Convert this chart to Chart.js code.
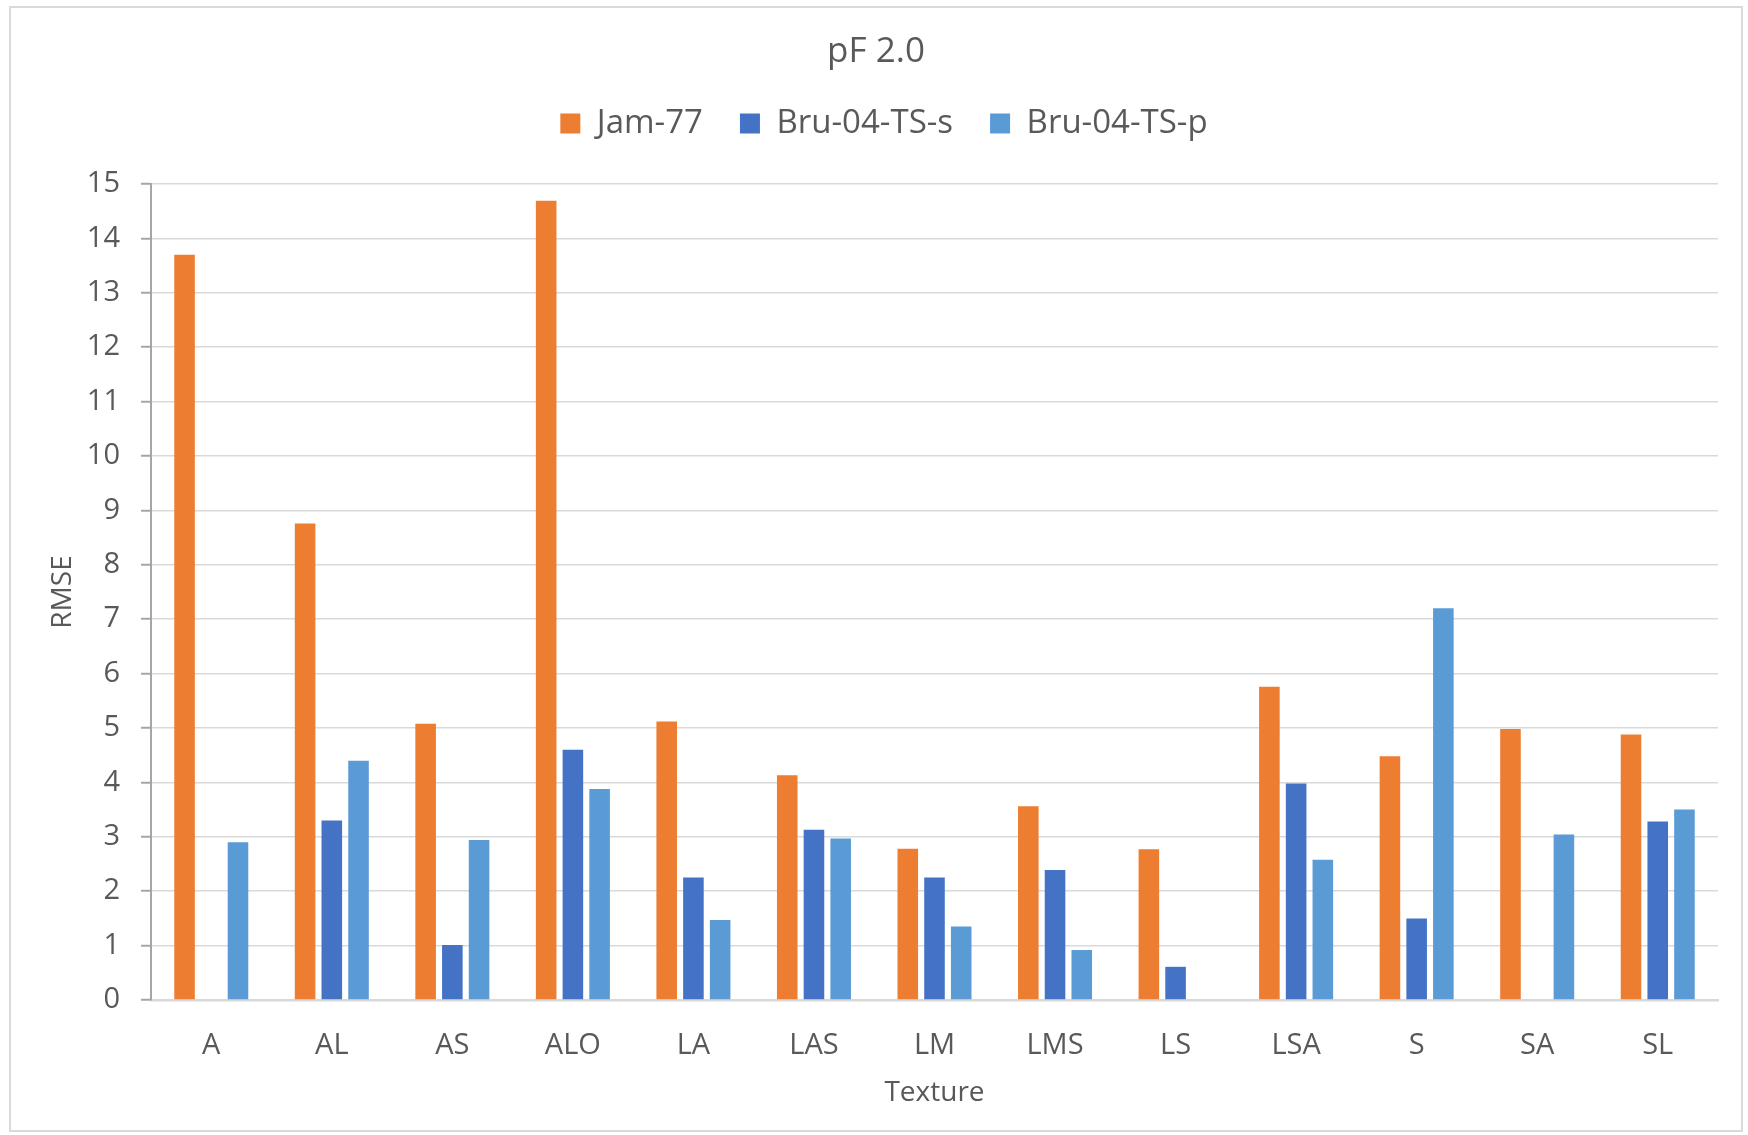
<!DOCTYPE html>
<html>
<head>
<meta charset="utf-8">
<script src="https://cdn.jsdelivr.net/npm/chart.js@4.4.1/dist/chart.umd.min.js"></script>
<style>
  html, body { margin: 0; padding: 0; background: #ffffff; }
  #wrap { width: 1748px; height: 1135px; position: relative; }
</style>
</head>
<body>
<div id="wrap"><canvas id="c" width="1748" height="1135"></canvas></div>
<script>
const categories = ["A", "AL", "AS", "ALO", "LA", "LAS", "LM", "LMS", "LS", "LSA", "S", "SA", "SL"];
const jam77      = [13.7, 8.76, 5.08, 14.69, 5.12, 4.13, 2.78, 3.56, 2.77, 5.76, 4.48, 4.98, 4.88];
const bru04TSs   = [null, 3.30, 1.01, 4.60, 2.25, 3.13, 2.25, 2.39, 0.61, 3.98, 1.50, null, 3.28];
const bru04TSp   = [2.90, 4.40, 2.94, 3.88, 1.47, 2.97, 1.35, 0.92, null, 2.58, 7.20, 3.04, 3.50];
const seriesNames = ["Jam-77", "Bru-04-TS-s", "Bru-04-TS-p"];
const yTicks = [0, 1, 2, 3, 4, 5, 6, 7, 8, 9, 10, 11, 12, 13, 14, 15];

const FONT = "'Open Sans', 'Liberation Sans', sans-serif";
const TXT = '#595959';

const frame = {
  id: 'frame',
  beforeDraw(chart) {
    const ctx = chart.ctx;
    ctx.save();
    ctx.fillStyle = '#ffffff';
    ctx.fillRect(0, 0, chart.width, chart.height);
    ctx.strokeStyle = '#d9d9d9';
    ctx.lineWidth = 2;
    ctx.strokeRect(10, 7, 1732, 1124);
    ctx.restore();
  }
};

const legendSpacer = {
  id: 'legendSpacer',
  beforeInit(chart) {
    const lg = chart.legend;
    const origFit = lg.fit;
    lg.fit = function () {
      origFit.call(this);
      this.height += 34;
    };
    const origDraw = lg.draw;
    lg.draw = function () {
      const ctx = this.ctx;
      ctx.save();
      ctx.translate(8, 0);
      origDraw.apply(this, arguments);
      ctx.restore();
    };
  }
};

new Chart(document.getElementById('c'), {
  type: 'bar',
  data: {
    labels: categories,
    datasets: [
      { label: seriesNames[0], data: jam77,    backgroundColor: '#ED7D31' },
      { label: seriesNames[1], data: bru04TSs, backgroundColor: '#4472C4' },
      { label: seriesNames[2], data: bru04TSp, backgroundColor: '#5B9BD5' }
    ]
  },
  options: {
    responsive: false,
    animation: false,
    devicePixelRatio: 1,
    layout: { padding: { top: 0, left: 34, right: 30, bottom: 20 } },
    datasets: { bar: { categoryPercentage: 0.665, barPercentage: 0.77 } },
    plugins: {
      title: {
        display: true,
        text: 'pF 2.0',
        color: TXT,
        font: { family: FONT, size: 35, weight: 'normal', lineHeight: 1.0 },
        padding: { top: 35, bottom: 0 }
      },
      legend: {
        display: true,
        position: 'top',
        labels: {
          color: TXT,
          font: { family: FONT, size: 33 },
          boxWidth: 20,
          boxHeight: 20,
          padding: 37
        }
      },
      tooltip: { enabled: false }
    },
    scales: {
      x: {
        grid: { display: false, drawTicks: false },
        border: { display: true, color: '#d9d9d9', width: 2.5 },
        ticks: { color: TXT, font: { family: FONT, size: 29 }, padding: 28 },
        title: {
          display: true, text: 'Texture', color: TXT,
          font: { family: FONT, size: 28 },
          padding: { top: 0, bottom: 5 }
        },
        afterFit(scale) { scale.height = 115; }
      },
      y: {
        min: 0, max: 15,
        afterBuildTicks(scale) { scale.ticks = yTicks.map(v => ({ value: v })); },
        grid: { color: '#d9d9d9', lineWidth: 1.5, tickColor: '#a6a6a6', tickLength: 10, tickWidth: 2 },
        border: { display: true, color: '#a6a6a6', width: 2 },
        ticks: { color: TXT, font: { family: FONT, size: 29 }, padding: 21 },
        title: {
          display: true, text: 'RMSE', color: TXT,
          font: { family: FONT, size: 28 },
          padding: { top: 12, bottom: 0 }
        },
        afterFit(scale) { scale.width = 117; }
      }
    }
  },
  plugins: [frame, legendSpacer]
});
</script>
</body>
</html>
